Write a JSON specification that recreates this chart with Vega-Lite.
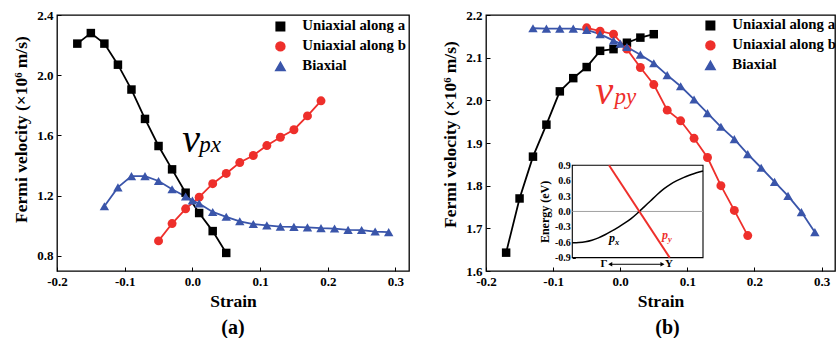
{
  "$schema": "https://vega.github.io/schema/vega-lite/v6.json",
  "background": "white",
  "padding": {"left": 12, "top": 8, "right": 0, "bottom": 0},
  "config": {
    "font": "Liberation Serif, Times New Roman, serif",
    "view": {"stroke": "black", "strokeWidth": 1.3},
    "axis": {
      "grid": false,
      "domain": false,
      "tickColor": "black",
      "tickSize": -4,
      "tickWidth": 1,
      "labelFlush": false,
      "labelOverlap": false,
      "labelFont": "Liberation Serif, Times New Roman, serif",
      "labelFontWeight": "bold",
      "labelFontSize": 13,
      "labelColor": "black",
      "labelPadding": 8,
      "titleFont": "Liberation Serif, Times New Roman, serif",
      "titleFontWeight": "bold",
      "titleFontSize": 17.5,
      "titleColor": "black"
    },
    "legend": {
      "labelFont": "Liberation Serif, Times New Roman, serif",
      "labelFontWeight": "bold",
      "labelFontSize": 14.8,
      "labelColor": "black",
      "labelLimit": 300,
      "symbolSize": 81,
      "labelOffset": 14.5,
      "rowPadding": 4,
      "padding": 0
    },
    "text": {"font": "Liberation Serif, Times New Roman, serif"},
    "title": {"font": "Liberation Serif, Times New Roman, serif", "fontWeight": "bold", "fontSize": 20, "color": "black"}
  },
  "datasets": {
    "vpx": [
      {"series": "Uniaxial along a", "strain": -0.17, "v": 2.21},
      {"series": "Uniaxial along a", "strain": -0.15, "v": 2.28},
      {"series": "Uniaxial along a", "strain": -0.13, "v": 2.21},
      {"series": "Uniaxial along a", "strain": -0.11, "v": 2.07},
      {"series": "Uniaxial along a", "strain": -0.09, "v": 1.905},
      {"series": "Uniaxial along a", "strain": -0.07, "v": 1.71},
      {"series": "Uniaxial along a", "strain": -0.05, "v": 1.53},
      {"series": "Uniaxial along a", "strain": -0.03, "v": 1.375},
      {"series": "Uniaxial along a", "strain": -0.01, "v": 1.22},
      {"series": "Uniaxial along a", "strain": 0.01, "v": 1.085},
      {"series": "Uniaxial along a", "strain": 0.03, "v": 0.965},
      {"series": "Uniaxial along a", "strain": 0.05, "v": 0.82},
      {"series": "Uniaxial along b", "strain": -0.05, "v": 0.9},
      {"series": "Uniaxial along b", "strain": -0.03, "v": 1.015},
      {"series": "Uniaxial along b", "strain": -0.01, "v": 1.113},
      {"series": "Uniaxial along b", "strain": 0.01, "v": 1.19},
      {"series": "Uniaxial along b", "strain": 0.03, "v": 1.28},
      {"series": "Uniaxial along b", "strain": 0.05, "v": 1.348},
      {"series": "Uniaxial along b", "strain": 0.07, "v": 1.42},
      {"series": "Uniaxial along b", "strain": 0.09, "v": 1.467},
      {"series": "Uniaxial along b", "strain": 0.11, "v": 1.533},
      {"series": "Uniaxial along b", "strain": 0.13, "v": 1.588},
      {"series": "Uniaxial along b", "strain": 0.15, "v": 1.638},
      {"series": "Uniaxial along b", "strain": 0.17, "v": 1.73},
      {"series": "Uniaxial along b", "strain": 0.19, "v": 1.83},
      {"series": "Biaxial", "strain": -0.13, "v": 1.13},
      {"series": "Biaxial", "strain": -0.11, "v": 1.255},
      {"series": "Biaxial", "strain": -0.09, "v": 1.33},
      {"series": "Biaxial", "strain": -0.07, "v": 1.33},
      {"series": "Biaxial", "strain": -0.05, "v": 1.298},
      {"series": "Biaxial", "strain": -0.03, "v": 1.243},
      {"series": "Biaxial", "strain": -0.01, "v": 1.195},
      {"series": "Biaxial", "strain": 0.0, "v": 1.168},
      {"series": "Biaxial", "strain": 0.01, "v": 1.148},
      {"series": "Biaxial", "strain": 0.03, "v": 1.092},
      {"series": "Biaxial", "strain": 0.05, "v": 1.06},
      {"series": "Biaxial", "strain": 0.07, "v": 1.03},
      {"series": "Biaxial", "strain": 0.09, "v": 1.012},
      {"series": "Biaxial", "strain": 0.11, "v": 1.003},
      {"series": "Biaxial", "strain": 0.13, "v": 0.995},
      {"series": "Biaxial", "strain": 0.15, "v": 0.993},
      {"series": "Biaxial", "strain": 0.17, "v": 0.99},
      {"series": "Biaxial", "strain": 0.19, "v": 0.985},
      {"series": "Biaxial", "strain": 0.21, "v": 0.982},
      {"series": "Biaxial", "strain": 0.23, "v": 0.973},
      {"series": "Biaxial", "strain": 0.25, "v": 0.972},
      {"series": "Biaxial", "strain": 0.27, "v": 0.962},
      {"series": "Biaxial", "strain": 0.29, "v": 0.958}
    ],
    "vpy": [
      {"series": "Uniaxial along a", "strain": -0.17, "v": 1.643},
      {"series": "Uniaxial along a", "strain": -0.15, "v": 1.77},
      {"series": "Uniaxial along a", "strain": -0.13, "v": 1.868},
      {"series": "Uniaxial along a", "strain": -0.11, "v": 1.943},
      {"series": "Uniaxial along a", "strain": -0.09, "v": 2.021},
      {"series": "Uniaxial along a", "strain": -0.07, "v": 2.052},
      {"series": "Uniaxial along a", "strain": -0.05, "v": 2.078},
      {"series": "Uniaxial along a", "strain": -0.03, "v": 2.116},
      {"series": "Uniaxial along a", "strain": -0.01, "v": 2.12},
      {"series": "Uniaxial along a", "strain": 0.01, "v": 2.135},
      {"series": "Uniaxial along a", "strain": 0.03, "v": 2.147},
      {"series": "Uniaxial along a", "strain": 0.05, "v": 2.155},
      {"series": "Uniaxial along b", "strain": -0.05, "v": 2.17},
      {"series": "Uniaxial along b", "strain": -0.03, "v": 2.162},
      {"series": "Uniaxial along b", "strain": -0.01, "v": 2.155},
      {"series": "Uniaxial along b", "strain": 0.01, "v": 2.12},
      {"series": "Uniaxial along b", "strain": 0.03, "v": 2.077},
      {"series": "Uniaxial along b", "strain": 0.05, "v": 2.037},
      {"series": "Uniaxial along b", "strain": 0.07, "v": 1.977},
      {"series": "Uniaxial along b", "strain": 0.09, "v": 1.952},
      {"series": "Uniaxial along b", "strain": 0.11, "v": 1.911},
      {"series": "Uniaxial along b", "strain": 0.13, "v": 1.866},
      {"series": "Uniaxial along b", "strain": 0.15, "v": 1.8},
      {"series": "Uniaxial along b", "strain": 0.17, "v": 1.742},
      {"series": "Uniaxial along b", "strain": 0.19, "v": 1.683},
      {"series": "Biaxial", "strain": -0.13, "v": 2.169},
      {"series": "Biaxial", "strain": -0.11, "v": 2.168},
      {"series": "Biaxial", "strain": -0.09, "v": 2.168},
      {"series": "Biaxial", "strain": -0.07, "v": 2.168},
      {"series": "Biaxial", "strain": -0.05, "v": 2.165},
      {"series": "Biaxial", "strain": -0.03, "v": 2.155},
      {"series": "Biaxial", "strain": -0.01, "v": 2.14},
      {"series": "Biaxial", "strain": 0.0, "v": 2.133},
      {"series": "Biaxial", "strain": 0.01, "v": 2.125},
      {"series": "Biaxial", "strain": 0.03, "v": 2.107},
      {"series": "Biaxial", "strain": 0.05, "v": 2.087},
      {"series": "Biaxial", "strain": 0.07, "v": 2.059},
      {"series": "Biaxial", "strain": 0.09, "v": 2.033},
      {"series": "Biaxial", "strain": 0.11, "v": 2.002},
      {"series": "Biaxial", "strain": 0.13, "v": 1.97},
      {"series": "Biaxial", "strain": 0.15, "v": 1.938},
      {"series": "Biaxial", "strain": 0.17, "v": 1.909},
      {"series": "Biaxial", "strain": 0.19, "v": 1.874},
      {"series": "Biaxial", "strain": 0.21, "v": 1.842},
      {"series": "Biaxial", "strain": 0.23, "v": 1.809},
      {"series": "Biaxial", "strain": 0.25, "v": 1.776},
      {"series": "Biaxial", "strain": 0.27, "v": 1.738},
      {"series": "Biaxial", "strain": 0.29, "v": 1.691}
    ],
    "pxBand": [
      {"k": 0.0, "E": -0.61}, {"k": 0.05, "E": -0.605}, {"k": 0.1, "E": -0.59},
      {"k": 0.15, "E": -0.56}, {"k": 0.2, "E": -0.515}, {"k": 0.25, "E": -0.455},
      {"k": 0.3, "E": -0.385}, {"k": 0.35, "E": -0.31}, {"k": 0.4, "E": -0.23},
      {"k": 0.45, "E": -0.14}, {"k": 0.5, "E": -0.03}, {"k": 0.55, "E": 0.09},
      {"k": 0.6, "E": 0.21}, {"k": 0.65, "E": 0.33}, {"k": 0.7, "E": 0.44},
      {"k": 0.75, "E": 0.53}, {"k": 0.8, "E": 0.6}, {"k": 0.85, "E": 0.66},
      {"k": 0.9, "E": 0.71}, {"k": 0.95, "E": 0.755}, {"k": 1.0, "E": 0.79}
    ],
    "pyBand": [
      {"k": 0.281, "E": 0.9}, {"k": 0.745, "E": -0.9}
    ]
  },
  "hconcat": [
    {
      "width": 352,
      "height": 256,
      "title": {"text": "(a)", "orient": "bottom", "offset": 8},
      "layer": [
        {
          "data": {"name": "vpx"},
          "mark": {"type": "line", "strokeWidth": 1.8},
          "encoding": {
            "x": {
              "field": "strain", "type": "quantitative",
              "scale": {"domain": [-0.2, 0.32], "nice": false, "zero": false},
              "axis": {
                "orient": "bottom", "title": "Strain", "titlePadding": 4,
                "values": [-0.2, -0.15, -0.1, -0.05, 0, 0.05, 0.1, 0.15, 0.2, 0.25, 0.3],
                "labelExpr": "abs(datum.value*10 - round(datum.value*10)) < 1e-6 ? (datum.value < -1e-9 ? '-' : '') + format(abs(datum.value), '.1f') : ''"
              }
            },
            "y": {
              "field": "v", "type": "quantitative",
              "scale": {"domain": [0.7, 2.4], "nice": false, "zero": false},
              "axis": {
                "orient": "left", "title": "Fermi velocity (×10⁶ m/s)", "titlePadding": 6, "titleY": 114,
                "values": [0.8, 0.9, 1.0, 1.1, 1.2, 1.3, 1.4, 1.5, 1.6, 1.7, 1.8, 1.9, 2.0, 2.1, 2.2, 2.3, 2.4],
                "labelExpr": "abs(datum.value*5 - round(datum.value*5)) < 1e-6 ? format(datum.value, '.1f') : ''"
              }
            },
            "color": {
              "field": "series", "type": "nominal",
              "scale": {"domain": ["Uniaxial along a", "Uniaxial along b", "Biaxial"], "range": ["#000000", "#ee2f2b", "#3a55aa"]}
            }
          }
        },
        {
          "data": {"name": "vpx"},
          "mark": {"type": "point", "filled": true, "opacity": 1},
          "encoding": {
            "x": {"field": "strain", "type": "quantitative"},
            "y": {"field": "v", "type": "quantitative"},
            "color": {
              "field": "series", "type": "nominal",
              "legend": {"title": null, "orient": "none", "legendX": 216, "legendY": 4}
            },
            "shape": {
              "field": "series", "type": "nominal",
              "scale": {"domain": ["Uniaxial along a", "Uniaxial along b", "Biaxial"], "range": ["square", "circle", "triangle-up"]},
              "legend": null
            },
            "size": {
              "field": "series", "type": "nominal",
              "scale": {"domain": ["Uniaxial along a", "Uniaxial along b", "Biaxial"], "range": [72, 88, 115]},
              "legend": null
            }
          }
        },
        {
          "data": {"values": [{}]},
          "mark": {"type": "text", "text": "v", "fontStyle": "italic", "fontSize": 40, "align": "left", "baseline": "alphabetic", "color": "black"},
          "encoding": {"x": {"datum": -0.015}, "y": {"datum": 1.49}}
        },
        {
          "data": {"values": [{}]},
          "mark": {"type": "text", "text": "px", "fontStyle": "italic", "fontSize": 23, "align": "left", "baseline": "alphabetic", "dx": 17, "color": "black"},
          "encoding": {"x": {"datum": -0.015}, "y": {"datum": 1.49}}
        }
      ]
    },
    {
      "width": 349,
      "height": 256,
      "title": {"text": "(b)", "orient": "bottom", "offset": 8, "dx": 7},
      "layer": [
        {
          "layer": [
            {
              "data": {"name": "vpy"},
              "mark": {"type": "line", "strokeWidth": 1.8},
              "encoding": {
                "x": {
                  "field": "strain", "type": "quantitative",
                  "scale": {"domain": [-0.2, 0.32], "nice": false, "zero": false},
                  "axis": {
                    "orient": "bottom", "title": "Strain", "titlePadding": 4,
                    "values": [-0.2, -0.15, -0.1, -0.05, 0, 0.05, 0.1, 0.15, 0.2, 0.25, 0.3],
                    "labelExpr": "abs(datum.value*10 - round(datum.value*10)) < 1e-6 ? (datum.value < -1e-9 ? '-' : '') + format(abs(datum.value), '.1f') : ''"
                  }
                },
                "y": {
                  "field": "v", "type": "quantitative",
                  "scale": {"domain": [1.6, 2.2], "nice": false, "zero": false},
                  "axis": {
                    "orient": "left", "title": "Fermi velocity (×10⁶ m/s)", "titlePadding": 6, "titleY": 119,
                    "values": [1.6, 1.65, 1.7, 1.75, 1.8, 1.85, 1.9, 1.95, 2.0, 2.05, 2.1, 2.15, 2.2],
                    "labelExpr": "abs(datum.value*10 - round(datum.value*10)) < 1e-6 ? format(datum.value, '.1f') : ''"
                  }
                },
                "color": {
                  "field": "series", "type": "nominal",
                  "scale": {"domain": ["Uniaxial along a", "Uniaxial along b", "Biaxial"], "range": ["#000000", "#ee2f2b", "#3a55aa"]}
                }
              }
            },
            {
              "data": {"name": "vpy"},
              "mark": {"type": "point", "filled": true, "opacity": 1},
              "encoding": {
                "x": {"field": "strain", "type": "quantitative"},
                "y": {"field": "v", "type": "quantitative"},
                "color": {
                  "field": "series", "type": "nominal",
                  "legend": {"title": null, "orient": "none", "legendX": 217, "legendY": 3}
                },
                "shape": {
                  "field": "series", "type": "nominal",
                  "scale": {"domain": ["Uniaxial along a", "Uniaxial along b", "Biaxial"], "range": ["square", "circle", "triangle-up"]},
                  "legend": null
                },
                "size": {
                  "field": "series", "type": "nominal",
                  "scale": {"domain": ["Uniaxial along a", "Uniaxial along b", "Biaxial"], "range": [72, 88, 115]},
                  "legend": null
                }
              }
            },
            {
              "data": {"values": [{}]},
              "mark": {"type": "text", "text": "v", "fontStyle": "italic", "fontSize": 40, "align": "left", "baseline": "alphabetic", "color": "#ee2f2b"},
              "encoding": {"x": {"datum": -0.037}, "y": {"datum": 1.991}}
            },
            {
              "data": {"values": [{}]},
              "mark": {"type": "text", "text": "py", "fontStyle": "italic", "fontSize": 23, "align": "left", "baseline": "alphabetic", "dx": 19, "color": "#ee2f2b"},
              "encoding": {"x": {"datum": -0.037}, "y": {"datum": 1.991}}
            }
          ]
        },
        {
          "layer": [
            {
              "data": {"values": [{}]},
              "mark": {"type": "rect", "fill": "white", "stroke": "black", "strokeWidth": 1.1},
              "encoding": {
                "x": {
                  "datum": 0, "type": "quantitative",
                  "scale": {"domain": [0, 1], "range": [86.3, 217], "nice": false, "zero": false},
                  "axis": null
                },
                "x2": {"datum": 1},
                "y": {
                  "datum": -0.9, "type": "quantitative",
                  "scale": {"domain": [-0.9, 0.9], "range": [242.6, 150.3], "nice": false, "zero": false},
                  "axis": {
                    "orient": "left", "offset": -86.3, "title": "Energy (eV)", "titleFontSize": 12, "titlePadding": 3,
                    "values": [-0.9, -0.6, -0.3, 0, 0.3, 0.6, 0.9], "tickSize": -3, "labelFontSize": 10, "labelPadding": 5,
                    "labelExpr": "(datum.value < -1e-9 ? '-' : '') + format(abs(datum.value), '.1f')"
                  }
                },
                "y2": {"datum": 0.9}
              }
            },
            {
              "data": {"values": [{}]},
              "mark": {"type": "rule", "color": "#a0a0a0", "strokeWidth": 1},
              "encoding": {"x": {"datum": 0}, "x2": {"datum": 1}, "y": {"datum": 0}}
            },
            {
              "data": {"name": "pxBand"},
              "mark": {"type": "line", "color": "black", "strokeWidth": 1.5, "interpolate": "monotone"},
              "encoding": {"x": {"field": "k", "type": "quantitative"}, "y": {"field": "E", "type": "quantitative"}}
            },
            {
              "data": {"name": "pyBand"},
              "mark": {"type": "line", "color": "#ee2f2b", "strokeWidth": 2},
              "encoding": {"x": {"field": "k", "type": "quantitative"}, "y": {"field": "E", "type": "quantitative"}}
            },
            {
              "data": {"values": [{}]},
              "mark": {"type": "rule", "color": "black", "strokeWidth": 1},
              "encoding": {"x": {"datum": 0.29}, "x2": {"datum": 0.69}, "y": {"datum": -1.03}}
            },
            {
              "data": {"values": [{}]},
              "mark": {"type": "point", "shape": "triangle-left", "filled": true, "color": "black", "size": 22, "opacity": 1},
              "encoding": {"x": {"datum": 0.29}, "y": {"datum": -1.03}}
            },
            {
              "data": {"values": [{}]},
              "mark": {"type": "point", "shape": "triangle-right", "filled": true, "color": "black", "size": 22, "opacity": 1},
              "encoding": {"x": {"datum": 0.69}, "y": {"datum": -1.03}}
            },
            {
              "data": {"values": [{}]},
              "mark": {"type": "text", "text": "Γ", "fontWeight": "bold", "fontSize": 11, "align": "center", "baseline": "middle", "color": "black"},
              "encoding": {"x": {"datum": 0.243}, "y": {"datum": -1.03}}
            },
            {
              "data": {"values": [{}]},
              "mark": {"type": "text", "text": "Y", "fontWeight": "bold", "fontSize": 11, "align": "center", "baseline": "middle", "color": "black"},
              "encoding": {"x": {"datum": 0.74}, "y": {"datum": -1.03}}
            },
            {
              "data": {"values": [{}]},
              "mark": {"type": "text", "text": "p", "fontStyle": "italic", "fontWeight": "bold", "fontSize": 12, "align": "left", "baseline": "alphabetic", "color": "black"},
              "encoding": {"x": {"datum": 0.28}, "y": {"datum": -0.6}}
            },
            {
              "data": {"values": [{}]},
              "mark": {"type": "text", "text": "x", "fontStyle": "italic", "fontWeight": "bold", "fontSize": 8.5, "align": "left", "baseline": "alphabetic", "dx": 6, "dy": 2.5, "color": "black"},
              "encoding": {"x": {"datum": 0.28}, "y": {"datum": -0.6}}
            },
            {
              "data": {"values": [{}]},
              "mark": {"type": "text", "text": "p", "fontStyle": "italic", "fontWeight": "bold", "fontSize": 12, "align": "left", "baseline": "alphabetic", "color": "#ee2f2b"},
              "encoding": {"x": {"datum": 0.686}, "y": {"datum": -0.54}}
            },
            {
              "data": {"values": [{}]},
              "mark": {"type": "text", "text": "y", "fontStyle": "italic", "fontWeight": "bold", "fontSize": 8.5, "align": "left", "baseline": "alphabetic", "dx": 6, "dy": 2.5, "color": "#ee2f2b"},
              "encoding": {"x": {"datum": 0.686}, "y": {"datum": -0.54}}
            }
          ]
        }
      ],
      "resolve": {"scale": {"x": "independent", "y": "independent"}, "axis": {"x": "independent", "y": "independent"}}
    }
  ],
  "spacing": 77,
  "bounds": "flush",
  "resolve": {"scale": {"color": "independent", "shape": "independent", "size": "independent"}, "legend": {"color": "independent"}}
}
